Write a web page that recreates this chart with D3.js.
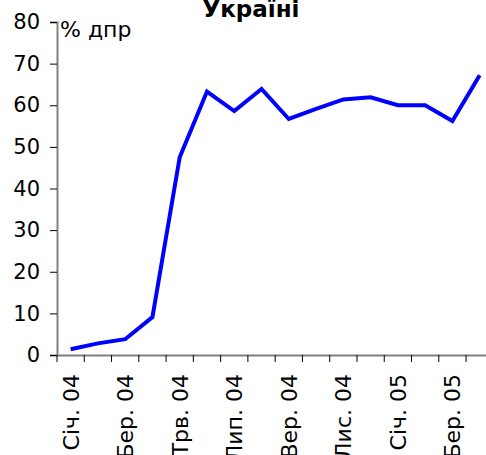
<!DOCTYPE html>
<html>
<head>
<meta charset="utf-8">
<script src="https://cdn.jsdelivr.net/npm/d3@7"></script>
<style>
  body { margin: 0; background: #fff; }
  svg { display: block; }
  svg text { font-family: "DejaVu Sans", Verdana, sans-serif; }
</style>
</head>
<body>
<svg id="chart" width="486" height="455"></svg>
<script>
var months = ["Січ. 04", "Лют. 04", "Бер. 04", "Кві. 04", "Трв. 04", "Чер. 04", "Лип. 04", "Сер. 04",
              "Вер. 04", "Жов. 04", "Лис. 04", "Гру. 04", "Січ. 05", "Лют. 05", "Бер. 05", "Кві. 05"];
var values = [1.4, 2.8, 3.8, 9.1, 47.5, 63.3, 58.6, 63.9, 56.7, 59.1, 61.4, 61.9, 60.0, 60.0, 56.2, 67.2];
var yTicks = [0, 10, 20, 30, 40, 50, 60, 70, 80];
var titleText = "Україні";
var unitText = "% дпр";

var svg = d3.select("#chart");
var plotLeft = 57, plotTop = 22, plotBottom = 355;
var step = 27.27;

var x = d3.scaleBand()
  .domain(months)
  .range([plotLeft, plotLeft + step * months.length]);

var y = d3.scaleLinear()
  .domain([0, 80])
  .range([plotBottom, plotTop]);

// title
svg.append("text")
  .attr("x", 251).attr("y", 17)
  .attr("text-anchor", "middle")
  .style("font-size", "23px").style("font-weight", "bold")
  .text(titleText);

// y axis
var yAxis = svg.append("g")
  .attr("transform", "translate(" + plotLeft + ",0)")
  .call(d3.axisLeft(y).tickValues(yTicks).tickSize(7).tickPadding(10));
yAxis.selectAll("text").style("font-size", "21px").attr("fill", "#000");
yAxis.select(".domain").attr("stroke", "#808080").attr("stroke-width", 2);
yAxis.selectAll(".tick line").attr("stroke", "#000");

// x axis
var xAxis = svg.append("g")
  .attr("transform", "translate(0," + plotBottom + ")")
  .call(d3.axisBottom(x).tickSize(7).tickSizeOuter(0)
    .tickFormat(function(d, i) { return i % 2 == 0 ? d : ""; }));
xAxis.select(".domain").attr("stroke", "#808080").attr("stroke-width", 2);
// ticks sit at category borders, not centres
xAxis.selectAll(".tick line")
  .attr("stroke", "#000")
  .attr("x1", -x.bandwidth() / 2).attr("x2", -x.bandwidth() / 2);
xAxis.selectAll(".tick text")
  .style("font-size", "22px").attr("fill", "#000")
  .attr("text-anchor", "end")
  .attr("transform", "rotate(-90)")
  .attr("x", -19).attr("y", 0).attr("dy", "0.36em");

// unit label
svg.append("text")
  .attr("x", 60).attr("y", 37)
  .style("font-size", "22px")
  .text(unitText);

// series line
var line = d3.line()
  .x(function(d, i) { return x(months[i]) + x.bandwidth() / 2; })
  .y(function(d) { return y(d); });

svg.append("path")
  .datum(values)
  .attr("fill", "none")
  .attr("stroke", "#0000ff")
  .attr("stroke-width", 4)
  .attr("stroke-linejoin", "miter")
  .attr("d", line);
</script>
</body>
</html>
